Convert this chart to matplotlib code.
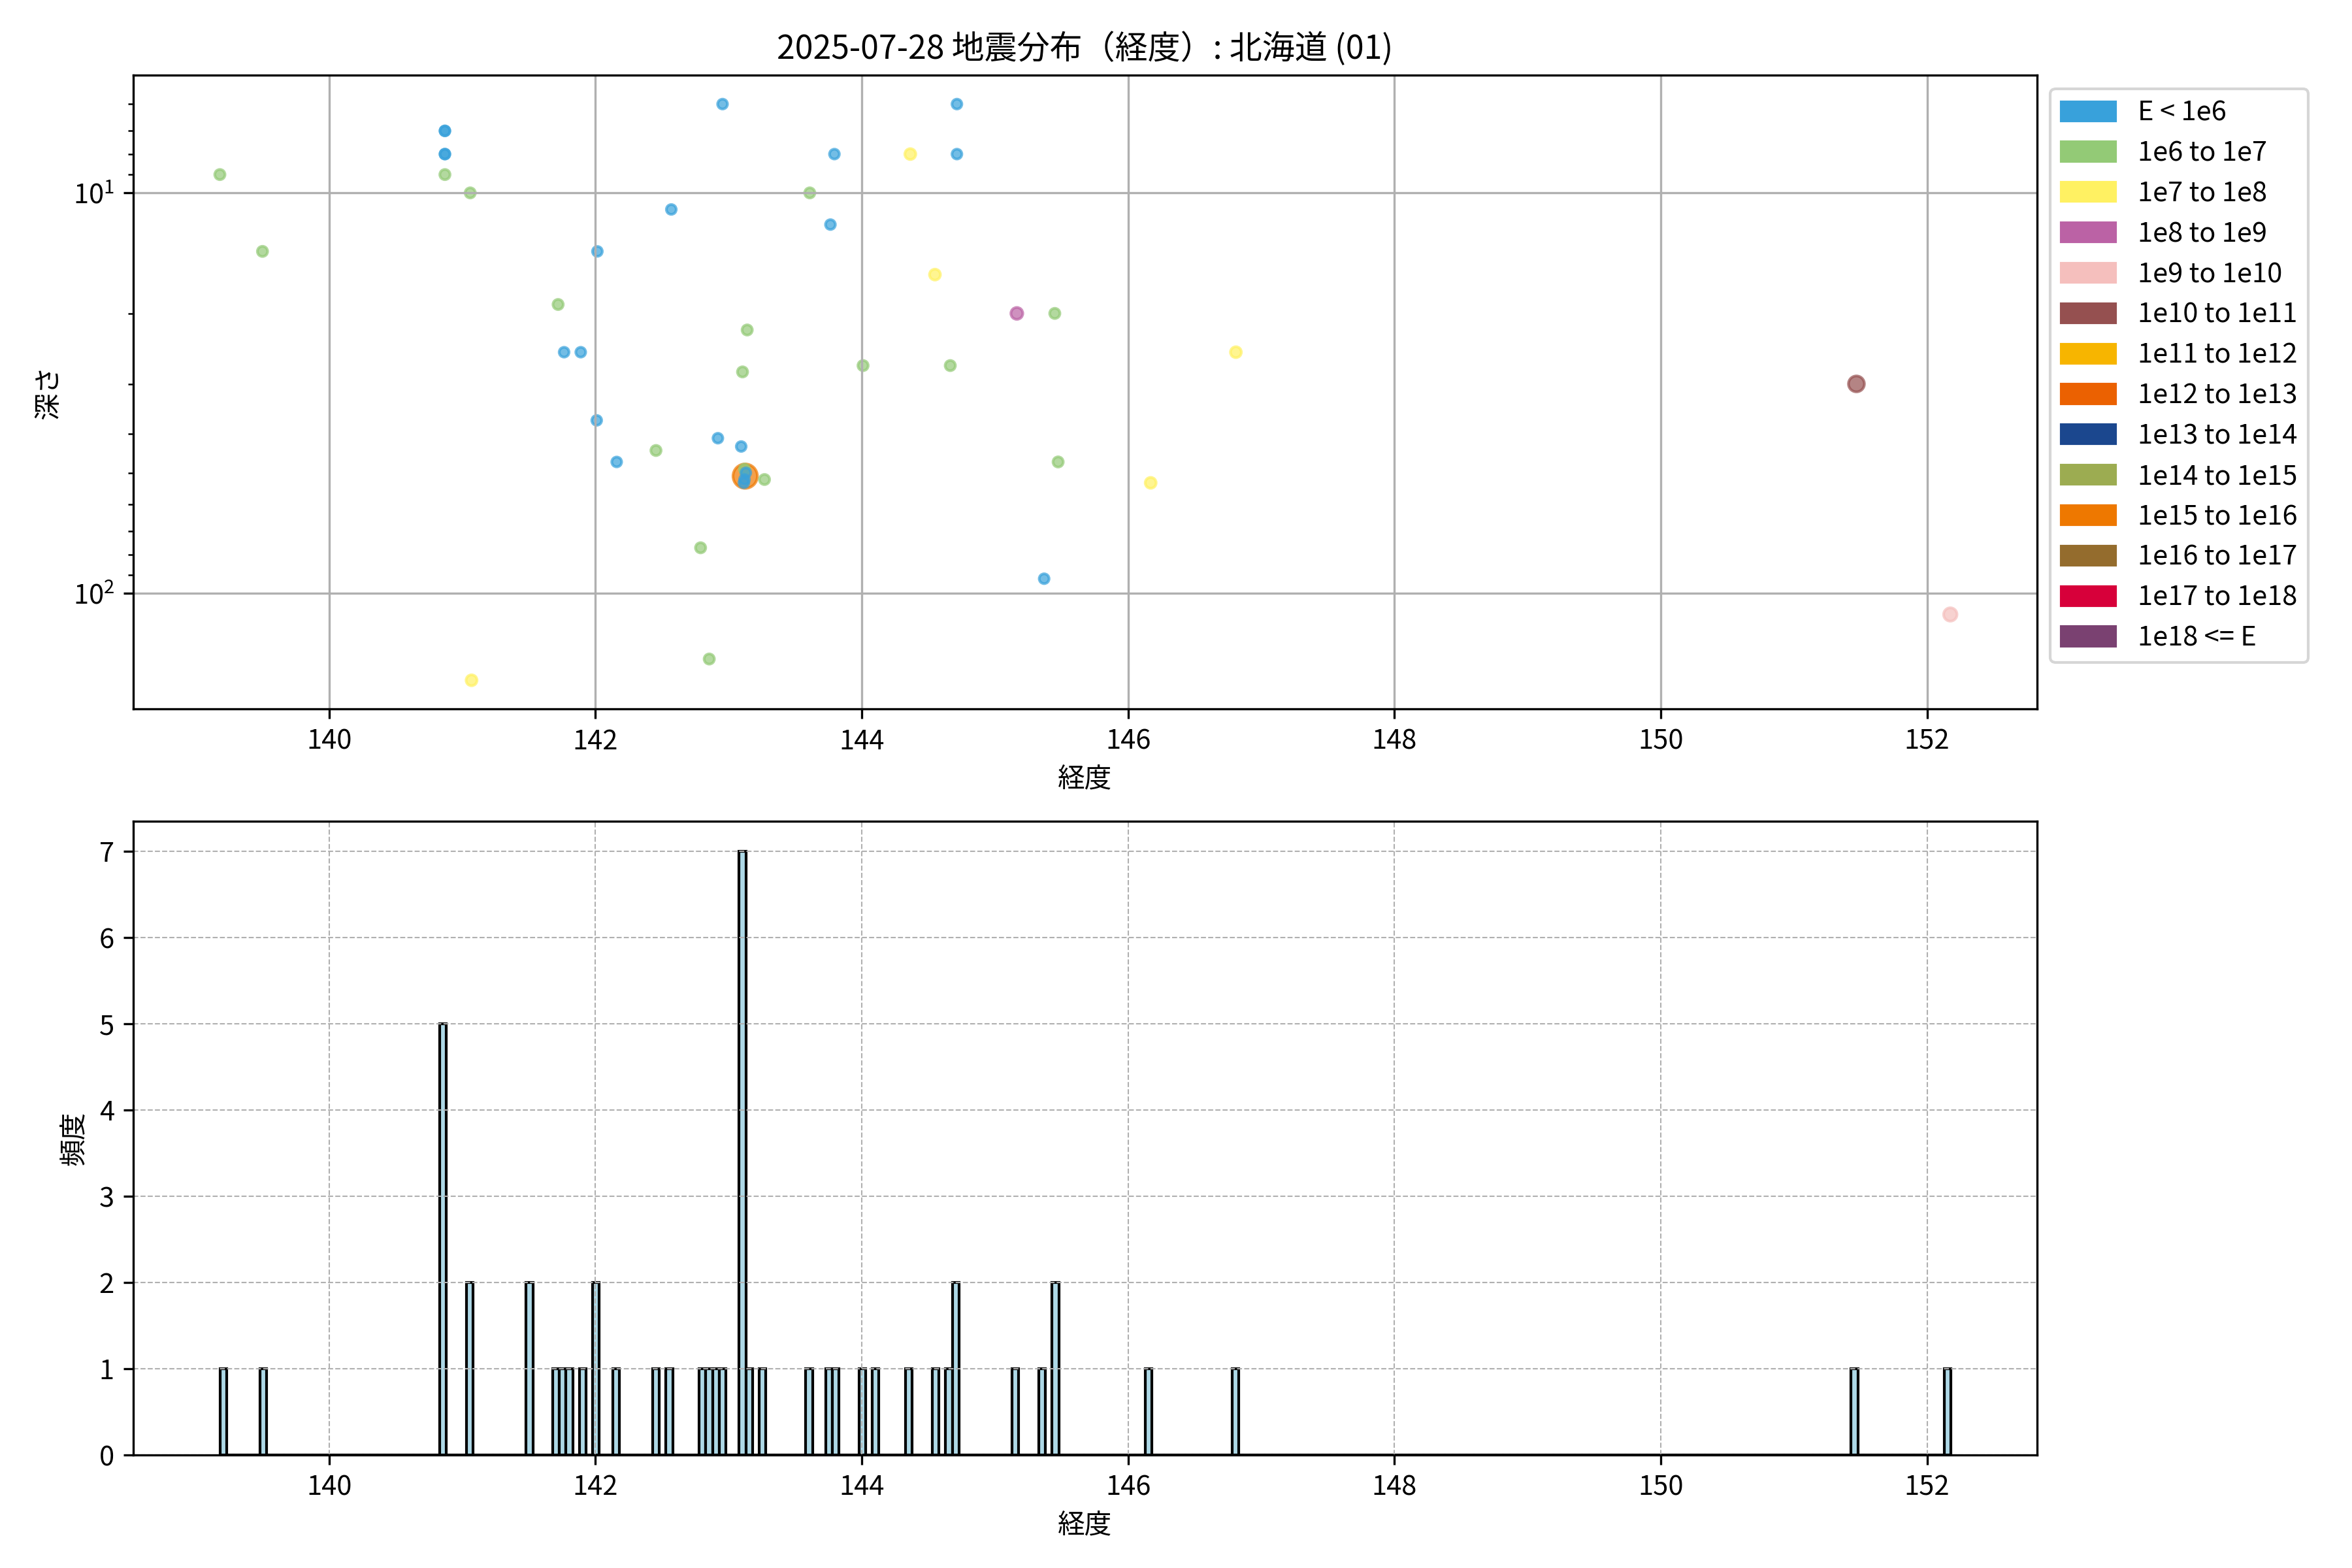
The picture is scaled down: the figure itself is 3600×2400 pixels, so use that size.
import matplotlib.pyplot as plt
import numpy as np
from matplotlib.patches import Patch

plt.rcParams['font.family'] = ['Noto Sans CJK JP', 'DejaVu Sans']

# 経度, 深さ (0 = 深さ不明), エネルギー階級
lon = np.array([139.18, 139.50, 140.87, 140.87, 140.87, 140.87, 140.87, 141.06, 141.07,
                141.50, 141.51, 141.72, 141.765, 141.80, 141.89, 142.015, 142.01, 142.16,
                142.455, 142.57, 142.79, 142.855, 142.92, 142.955, 143.095, 143.105,
                143.125, 143.12, 143.12, 143.13, 143.115, 143.14, 143.27, 143.61, 143.765,
                143.795, 144.01, 144.10, 144.365, 144.55, 144.665, 144.715, 144.715,
                145.165, 145.37, 145.45, 145.475, 146.17, 146.81, 151.47, 152.175])
depth = np.array([9, 14, 7, 7, 8, 8, 9, 10, 165,
                  0, 0, 19, 25, 0, 25, 14, 37, 47,
                  44, 11, 77, 146, 41, 6, 43, 28,
                  51, 49, 52, 50, 53, 22, 52, 10, 12,
                  8, 27, 0, 8, 16, 27, 6, 8,
                  20, 92, 20, 47, 53, 25, 30, 113])
eclass = np.array([1, 1, 0, 0, 0, 0, 1, 1, 2,
                   0, 0, 1, 0, 0, 0, 0, 0, 0,
                   1, 0, 1, 1, 0, 0, 0, 1,
                   10, 1, 0, 0, 0, 1, 1, 1, 0,
                   0, 1, 0, 2, 2, 1, 0, 0,
                   3, 0, 1, 1, 2, 2, 5, 4])

labels = ['E < 1e6', '1e6 to 1e7', '1e7 to 1e8', '1e8 to 1e9', '1e9 to 1e10',
          '1e10 to 1e11', '1e11 to 1e12', '1e12 to 1e13', '1e13 to 1e14',
          '1e14 to 1e15', '1e15 to 1e16', '1e16 to 1e17', '1e17 to 1e18', '1e18 <= E']
colors = ['#38A1DB', '#93CA76', '#FFF162', '#BB62A5', '#F5BFBD', '#955050', '#F7B500',
          '#EB6101', '#1B478E', '#9CAC51', '#EE7800', '#946C2D', '#D7003A', '#7A4171']
sizes = [13, 14, 16, 19, 24, 34, 42, 50, 58, 66, 80, 88, 96, 104]

fig, axes = plt.subplots(2, 1, figsize=(12, 8), dpi=300)
fig.subplots_adjust(left=0.0567, right=0.866, top=0.952, bottom=0.072, hspace=0.177)

# 散布図 (深さ, log)
ax = axes[0]
m = depth > 0
ax.scatter(lon[m], depth[m], c=[colors[k] for k in eclass[m]],
           s=[sizes[k] for k in eclass[m]], alpha=0.7)
ax.set_yscale('log')
ax.invert_yaxis()
ax.grid(True)
ax.set_xlabel('経度')
ax.set_ylabel('深さ')
ax.set_title('2025-07-28 地震分布（経度）: 北海道 (01)')
handles = [Patch(color=c, label=l) for c, l in zip(colors, labels)]
ax.legend(handles=handles, loc='upper left', bbox_to_anchor=(1, 1))

# ヒストグラム
ax2 = axes[1]
bw = 0.05
bins = np.arange(lon.min(), lon.max() + bw, bw)
ax2.hist(lon, bins=bins, color='lightblue', edgecolor='black')
ax2.set_xlim(ax.get_xlim())
ax2.grid(True, linestyle='--', linewidth=0.5)
ax2.set_xlabel('経度')
ax2.set_ylabel('頻度')

plt.savefig('out.png')
